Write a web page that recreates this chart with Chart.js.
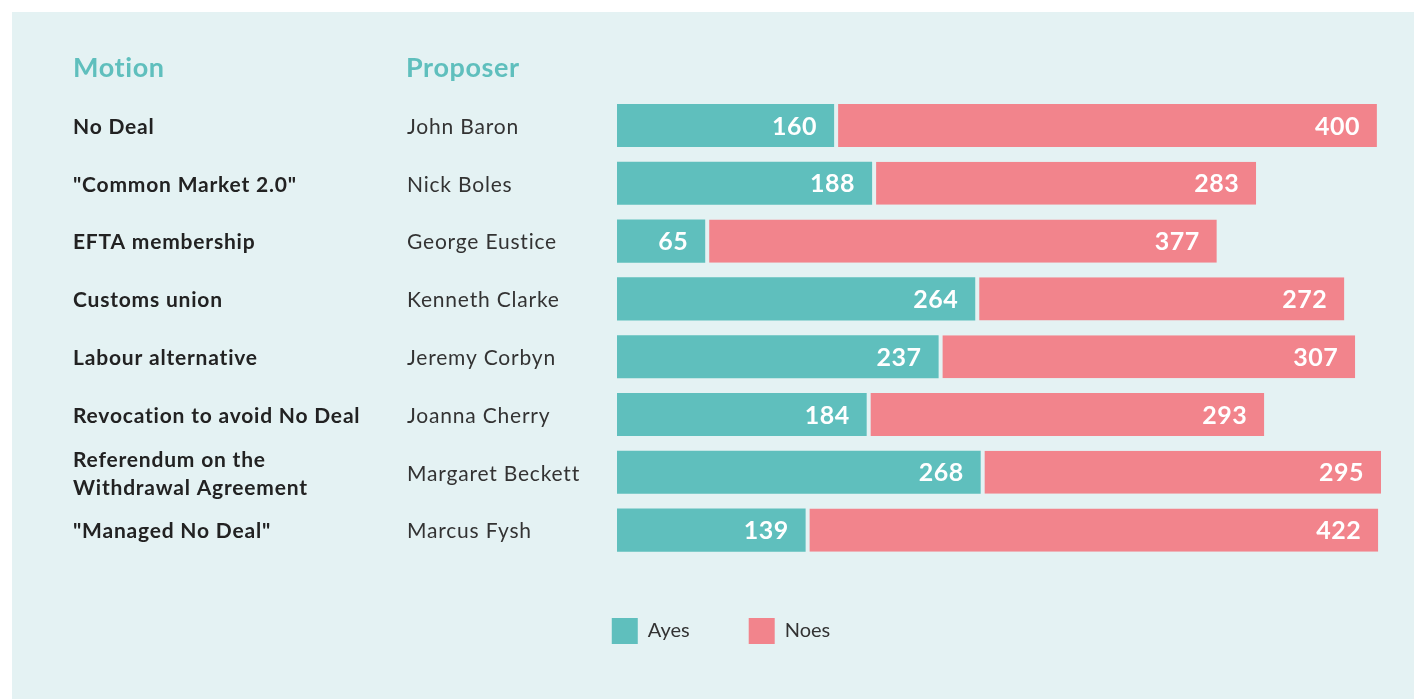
<!DOCTYPE html>
<html>
<head>
<meta charset="utf-8">
<script src="https://cdn.jsdelivr.net/npm/chart.js@4.4.1/dist/chart.umd.min.js"></script>
<style>
  html, body { margin: 0; padding: 0; background: #fff; }
  .page { position: relative; width: 1414px; height: 699px; overflow: hidden; }
  .panel { position: absolute; left: 12px; top: 12px; right: 0; bottom: 0; background: #e4f2f3; }
  #chart { position: absolute; left: 0; top: 0; }
</style>
</head>
<body>
<div class="page">
  <div class="panel"></div>
  <canvas id="chart" width="1414" height="699"></canvas>
</div>
<script>
"use strict";

var headers = ['Motion', 'Proposer'];
var motions = [
  'No Deal',
  '"Common Market 2.0"',
  'EFTA membership',
  'Customs union',
  'Labour alternative',
  'Revocation to avoid No Deal',
  ['Referendum on the', 'Withdrawal Agreement'],
  '"Managed No Deal"'
];
var proposers = ['John Baron', 'Nick Boles', 'George Eustice', 'Kenneth Clarke',
  'Jeremy Corbyn', 'Joanna Cherry', 'Margaret Beckett', 'Marcus Fysh'];
var ayes = [160, 188, 65, 264, 237, 184, 268, 139];
var noes = [400, 283, 377, 272, 307, 293, 295, 422];

var teal = '#5fbfbd';
var pink = '#f2848c';
var panelBg = '#e4f2f3';
var ink = '#222222';

// left hand table: headers, motions, proposers
var tableText = {
  id: 'tableText',
  afterDraw: function (chart) {
    var ctx = chart.ctx;
    var y = chart.scales.y;
    ctx.save();
    ctx.textAlign = 'left';
    ctx.textBaseline = 'middle';
    ctx.fillStyle = teal;
    ctx.font = 'bold 27px Lato';
    ctx.letterSpacing = '0.6px';
    ctx.fillText(headers[0], 73, 68);
    ctx.fillText(headers[1], 406, 68);

    motions.forEach(function (m, i) {
      var py = y.getPixelForValue(i) + 1.5;
      var lines = Array.isArray(m) ? m : [m];
      ctx.fillStyle = ink;
      ctx.font = 'bold 21px Lato';
      ctx.letterSpacing = '0.8px';
      lines.forEach(function (line, j) {
        ctx.fillText(line, 73, py + (j - (lines.length - 1) / 2) * 28);
      });
      ctx.fillStyle = '#333333';
      ctx.font = '21px Lato';
      ctx.letterSpacing = '0.8px';
      ctx.fillText(proposers[i], 407, py);
    });
    ctx.restore();
  }
};

// white numbers at the right end of each bar
var barValues = {
  id: 'barValues',
  afterDatasetsDraw: function (chart) {
    var ctx = chart.ctx;
    ctx.save();
    ctx.fillStyle = '#ffffff';
    ctx.font = 'bold 25px Lato';
    ctx.letterSpacing = '0.5px';
    ctx.textAlign = 'right';
    ctx.textBaseline = 'middle';
    chart.data.datasets.forEach(function (ds, d) {
      chart.getDatasetMeta(d).data.forEach(function (bar, i) {
        ctx.fillText(String(ds.data[i]), bar.x - 17, bar.y + 1);
      });
    });
    ctx.restore();
  }
};

var ctx = document.getElementById('chart').getContext('2d');
var chart = new Chart(ctx, {
  type: 'bar',
  data: {
    labels: motions,
    datasets: [{
      label: 'Ayes',
      data: ayes,
      backgroundColor: teal,
      borderWidth: 0
    }, {
      label: 'Noes',
      data: noes,
      backgroundColor: pink,
      borderColor: panelBg,
      borderWidth: { left: 4, right: 0, top: 0, bottom: 0 },
      borderSkipped: false
    }]
  },
  options: {
    indexAxis: 'y',
    responsive: false,
    animation: false,
    layout: {
      padding: { left: 51.5, right: 23.5, top: 96.6, bottom: 45 }
    },
    datasets: {
      bar: { categoryPercentage: 1, barPercentage: 0.745 }
    },
    scales: {
      x: {
        stacked: true,
        min: 0,
        max: 570,
        display: false
      },
      y: {
        stacked: true,
        grid: { display: false },
        border: { display: false },
        ticks: { display: false },
        afterFit: function (scale) {
          scale.width = 565.5;
        }
      }
    },
    plugins: {
      tooltip: { enabled: false },
      legend: {
        position: 'bottom',
        labels: {
          boxWidth: 26,
          boxHeight: 26,
          padding: 59,
          color: '#333333',
          font: { family: 'Lato', size: 20 },
          generateLabels: function (chart) {
            return Chart.defaults.plugins.legend.labels.generateLabels(chart).map(function (item) {
              item.lineWidth = 0;
              return item;
            });
          }
        }
      }
    }
  },
  plugins: [tableText, barValues]
});
</script>
</body>
</html>
